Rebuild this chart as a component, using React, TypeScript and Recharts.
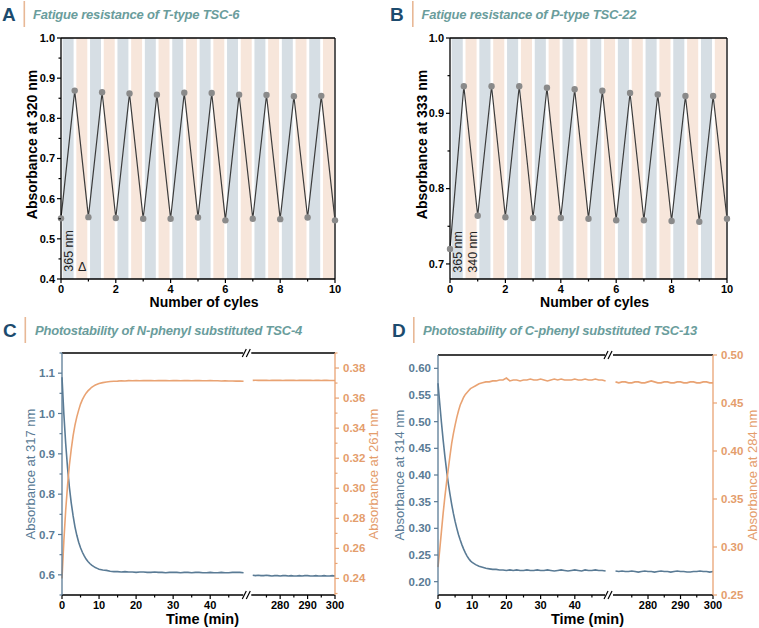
import React from "react";
import { Line, LineChart, ReferenceArea, ReferenceDot, ReferenceLine, XAxis, YAxis } from "recharts";

const FONT = 'Arial, "Liberation Sans", Helvetica, sans-serif';
const SLATE = "#5a7b95";
const ORANGE = "#e9a373";
const ORANGE_TEXT = "#e49d6c";
const BAND_BLUE = "#d6dee4";
const BAND_PEACH = "#f7e6db";
const LETTER = "#1c4b6e";
const TITLE = "#6a9d9c";
const BAR = "#e8b896";

// ---- A / B: fatigue cycles (x = number of cycles)
const cycleX = [0, 0.5, 1, 1.5, 2, 2.5, 3, 3.5, 4, 4.5, 5, 5.5, 6, 6.5, 7, 7.5, 8, 8.5, 9, 9.5, 10];
const absA320 = [0.551, 0.869, 0.554, 0.865, 0.552, 0.862, 0.55, 0.859, 0.55, 0.864, 0.553, 0.863, 0.546, 0.859, 0.55, 0.858, 0.549, 0.855, 0.553, 0.856, 0.546];
const absB333 = [0.72, 0.936, 0.764, 0.936, 0.762, 0.936, 0.761, 0.934, 0.761, 0.932, 0.76, 0.93, 0.758, 0.927, 0.758, 0.925, 0.757, 0.923, 0.756, 0.923, 0.76];
const bandCycles = [0, 1, 2, 3, 4, 5, 6, 7, 8, 9];

const cycleTicks = [0, 1, 2, 3, 4, 5, 6, 7, 8, 9, 10];
const cycleMajor = [0, 2, 4, 6, 8, 10];
const aTicks = [0.4, 0.45, 0.5, 0.55, 0.6, 0.65, 0.7, 0.75, 0.8, 0.85, 0.9, 0.95, 1.0];
const aMajor = [0.4, 0.5, 0.6, 0.7, 0.8, 0.9, 1.0];
const bTicks = [0.7, 0.75, 0.8, 0.85, 0.9, 0.95, 1.0];
const bMajor = [0.7, 0.8, 0.9, 1.0];

// ---- C / D: photostability (time in min, broken axis 50 -> 268)
const timeEarly = [0, 0.5, 1, 1.5, 2, 2.5, 3, 3.5, 4, 4.5, 5, 5.5, 6, 6.5, 7, 7.5, 8, 8.5, 9, 9.5, 10, 11, 12, 13, 14, 15, 16, 17, 18, 19, 20, 21, 22, 23, 24, 25, 26, 27, 28, 29, 30, 31, 32, 33, 34, 35, 36, 37, 38, 39, 40, 41, 42, 43, 44, 45, 46, 47, 48, 49];
const timeLate = [270, 271, 272, 273, 274, 275, 276, 277, 278, 279, 280, 281, 282, 283, 284, 285, 286, 287, 288, 289, 290, 291, 292, 293, 294, 295, 296, 297, 298, 299, 300];

const c317Early = [1.09, 0.999, 0.925, 0.865, 0.817, 0.778, 0.746, 0.719, 0.698, 0.681, 0.667, 0.656, 0.647, 0.639, 0.633, 0.628, 0.624, 0.621, 0.618, 0.616, 0.614, 0.612, 0.611, 0.609, 0.608, 0.608, 0.607, 0.608, 0.607, 0.607, 0.606, 0.607, 0.607, 0.606, 0.606, 0.607, 0.606, 0.606, 0.605, 0.606, 0.606, 0.606, 0.605, 0.606, 0.606, 0.605, 0.606, 0.606, 0.605, 0.605, 0.606, 0.605, 0.605, 0.606, 0.605, 0.605, 0.606, 0.606, 0.606, 0.605];
const c317Late = [0.599, 0.598, 0.599, 0.598, 0.598, 0.599, 0.598, 0.597, 0.598, 0.598, 0.597, 0.598, 0.598, 0.597, 0.598, 0.597, 0.597, 0.598, 0.597, 0.598, 0.598, 0.597, 0.597, 0.598, 0.597, 0.597, 0.598, 0.597, 0.597, 0.598, 0.597];
const c261Early = [0.24, 0.265, 0.2855, 0.302, 0.3155, 0.326, 0.335, 0.342, 0.3475, 0.352, 0.356, 0.359, 0.3613, 0.3633, 0.3648, 0.366, 0.3672, 0.368, 0.3687, 0.3692, 0.3697, 0.3703, 0.3707, 0.371, 0.3712, 0.3713, 0.3715, 0.3714, 0.3716, 0.3715, 0.3716, 0.3715, 0.3717, 0.3716, 0.3716, 0.3715, 0.3716, 0.3717, 0.3716, 0.3715, 0.3716, 0.3716, 0.3715, 0.3716, 0.3716, 0.3715, 0.3716, 0.3716, 0.3715, 0.3715, 0.3716, 0.3715, 0.3715, 0.3714, 0.3715, 0.3714, 0.3714, 0.3713, 0.3713, 0.3712];
const c261Late = [0.3718, 0.3719, 0.3718, 0.3718, 0.3719, 0.3718, 0.3717, 0.3718, 0.3719, 0.3718, 0.3718, 0.3717, 0.3718, 0.3719, 0.3718, 0.3718, 0.3717, 0.3718, 0.3718, 0.3719, 0.3718, 0.3718, 0.3717, 0.3718, 0.3718, 0.3717, 0.3718, 0.3718, 0.3717, 0.3717, 0.3717];

const d314Early = [0.572, 0.535, 0.499, 0.466, 0.436, 0.409, 0.385, 0.364, 0.345, 0.328, 0.313, 0.3, 0.288, 0.278, 0.269, 0.261, 0.254, 0.248, 0.243, 0.239, 0.236, 0.232, 0.229, 0.227, 0.225, 0.224, 0.223, 0.223, 0.222, 0.222, 0.221, 0.222, 0.221, 0.222, 0.221, 0.221, 0.222, 0.221, 0.221, 0.222, 0.221, 0.221, 0.222, 0.221, 0.22, 0.221, 0.222, 0.221, 0.22, 0.221, 0.222, 0.221, 0.22, 0.222, 0.221, 0.221, 0.222, 0.221, 0.221, 0.22];
const d314Late = [0.22, 0.219, 0.22, 0.219, 0.219, 0.22, 0.219, 0.218, 0.219, 0.22, 0.219, 0.219, 0.218, 0.219, 0.22, 0.219, 0.219, 0.218, 0.219, 0.22, 0.219, 0.219, 0.218, 0.218, 0.219, 0.219, 0.22, 0.219, 0.219, 0.218, 0.219];
const d284Early = [0.279, 0.297, 0.316, 0.335, 0.352, 0.367, 0.381, 0.395, 0.408, 0.418, 0.427, 0.435, 0.442, 0.448, 0.452, 0.456, 0.459, 0.461, 0.463, 0.465, 0.466, 0.468, 0.47, 0.471, 0.472, 0.472, 0.473, 0.473, 0.474, 0.474, 0.476, 0.473, 0.474, 0.474, 0.473, 0.474, 0.474, 0.475, 0.474, 0.474, 0.475, 0.474, 0.473, 0.474, 0.475, 0.474, 0.475, 0.474, 0.474, 0.474, 0.475, 0.474, 0.474, 0.475, 0.474, 0.474, 0.475, 0.474, 0.474, 0.473];
const d284Late = [0.472, 0.471, 0.472, 0.472, 0.471, 0.471, 0.472, 0.472, 0.471, 0.471, 0.472, 0.473, 0.472, 0.471, 0.471, 0.472, 0.472, 0.471, 0.471, 0.472, 0.472, 0.471, 0.471, 0.472, 0.472, 0.471, 0.471, 0.472, 0.472, 0.471, 0.471];

const timeMajor = [0, 10, 20, 30, 40, 280, 290, 300];
const timeMinor = [5, 15, 25, 35, 45, 275, 285, 295];
const cLeftTicks = [0.55, 0.6, 0.65, 0.7, 0.75, 0.8, 0.85, 0.9, 0.95, 1.0, 1.05, 1.1, 1.15];
const cLeftMajor = [0.6, 0.7, 0.8, 0.9, 1.0, 1.1];
const cRightTicks = [0.23, 0.24, 0.25, 0.26, 0.27, 0.28, 0.29, 0.3, 0.31, 0.32, 0.33, 0.34, 0.35, 0.36, 0.37, 0.38, 0.39];
const cRightMajor = [0.24, 0.26, 0.28, 0.3, 0.32, 0.34, 0.36, 0.38];
const dLeftTicks = [0.2, 0.25, 0.3, 0.35, 0.4, 0.45, 0.5, 0.55, 0.6];
const dRightTicks = [0.25, 0.3, 0.35, 0.4, 0.45, 0.5];

// broken time axis: minutes 0-50 kept as is, 268-300 squeezed by k after the break
const BREAK_AT = 50;
const RIGHT_START = 268;
const toU = (t: number, k: number) => (t <= BREAK_AT ? t : BREAK_AT + (t - RIGHT_START) * k);
const fromU = (u: number, k: number) => (u <= BREAK_AT ? u : RIGHT_START + (u - BREAK_AT) / k);

function brokenRows(earlyL: number[], earlyR: number[], lateL: number[], lateR: number[], k: number) {
  const rows: Array<{ u: number; s1: number | null; s2: number | null }> = timeEarly.map((t, i) => ({ u: t, s1: earlyL[i], s2: earlyR[i] }));
  rows.push({ u: BREAK_AT, s1: null, s2: null });
  timeLate.forEach((t, i) => rows.push({ u: toU(t, k), s1: lateL[i], s2: lateR[i] }));
  return rows;
}

type Side = "left" | "right" | "bottom";

// ticks drawn by hand so minor ticks can be shorter than major ones
function tickRenderer(side: Side, majors: number[], fmt: (v: number) => string, color: string, fontSize: number, lineColor = color, gap = 2) {
  return (props: any) => {
    const { x, y, payload } = props;
    const v = Number(payload.value);
    const major = majors.some((m) => Math.abs(m - v) < 1e-6);
    const len = major ? 4 : 2.5;
    const label = major ? fmt(v) : "";
    const txt = { fill: color, fontSize, fontWeight: 700, fontFamily: FONT } as const;
    if (side === "left") {
      return (
        <g>
          <line x1={x - len} x2={x} y1={y} y2={y} stroke={lineColor} strokeWidth={1.2} />
          {label && <text x={x - 4 - gap} y={y} dy="0.35em" textAnchor="end" {...txt}>{label}</text>}
        </g>
      );
    }
    if (side === "right") {
      return (
        <g>
          <line x1={x} x2={x + len} y1={y} y2={y} stroke={lineColor} strokeWidth={1.2} />
          {label && <text x={x + 4 + gap} y={y} dy="0.35em" textAnchor="start" {...txt}>{label}</text>}
        </g>
      );
    }
    return (
      <g>
        <line x1={x} x2={x} y1={y} y2={y + len} stroke={lineColor} strokeWidth={1.2} />
        {label && <text x={x} y={y + 4 + gap} dy="0.71em" textAnchor="middle" {...txt}>{label}</text>}
      </g>
    );
  };
}

function yTitle(text: string, dx: number, dy: number, color: string, weight: number, size: number) {
  return (props: any) => {
    const vb = props.viewBox || { x: 0, y: 0, width: 0, height: 0 };
    const cx = vb.x + dx;
    const cy = vb.y + vb.height / 2 + dy;
    return (
      <text x={cx} y={cy} transform={`rotate(-90 ${cx} ${cy})`} textAnchor="middle" dominantBaseline="central" fill={color} fontSize={size} fontWeight={weight} fontFamily={FONT}>
        {text}
      </text>
    );
  };
}

function xTitle(text: string, dx: number, dy: number, size: number) {
  return (props: any) => {
    const vb = props.viewBox || { x: 0, y: 0, width: 0, height: 0 };
    return (
      <text x={vb.x + vb.width / 2 + dx} y={vb.y + dy} textAnchor="middle" fill="#000" fontSize={size} fontWeight={700} fontFamily={FONT}>
        {text}
      </text>
    );
  };
}

const BreakMark = (props: any) => {
  const { cx, cy } = props;
  return (
    <g>
      <rect x={cx - 4} y={cy - 1.5} width={8} height={3} fill="#fff" />
      <line x1={cx - 5} y1={cy + 4} x2={cx - 1} y2={cy - 4} stroke="#000" strokeWidth={1.2} />
      <line x1={cx - 1} y1={cy + 4} x2={cx + 3} y2={cy - 4} stroke="#000" strokeWidth={1.2} />
    </g>
  );
};

function noteShape(text: string, rotate: boolean) {
  return (props: any) => {
    const { cx, cy } = props;
    return (
      <text x={cx} y={cy} transform={rotate ? `rotate(-90 ${cx} ${cy})` : undefined} textAnchor="middle" dominantBaseline="central" fill="#222" fontSize={12.5} fontFamily={FONT}>
        {text}
      </text>
    );
  };
}

function PanelHeader({ left, top, letter, title, letterX, barX, titleX }: { left: number; top: number; letter: string; title: string; letterX: number; barX: number; titleX: number }) {
  return (
    <svg style={{ position: "absolute", left, top }} width={379} height={30}>
      <text x={letterX} y={20.5} fontSize={19} fontWeight={700} fill={LETTER} fontFamily={FONT}>{letter}</text>
      <rect x={barX} y={1} width={1.6} height={26} fill={BAR} />
      <text x={titleX} y={18.5} fontSize={13} letterSpacing={-0.2} fontWeight={700} fontStyle="italic" fill={TITLE} fontFamily={FONT}>{title}</text>
    </svg>
  );
}

function FatigueChart({ values, yDomain, yTicks, yMajor, yLabel, yAxisWidth, width, labelDx, notes }: {
  values: number[]; yDomain: [number, number]; yTicks: number[]; yMajor: number[]; yLabel: string; yAxisWidth: number; width: number; labelDx: number;
  notes: Array<{ x: number; y: number; text: string; rotate: boolean }>;
}) {
  const data = cycleX.map((x, i) => ({ x, abs: values[i] }));
  const fmt = (v: number) => v.toFixed(1);
  return (
    <LineChart width={width} height={290} data={data} margin={{ top: 10, right: 11, bottom: 0, left: 0 }}>
      {bandCycles.map((k) => (
        <ReferenceArea key={`bb${k}`} x1={k + 0.06} x2={k + 0.46} fill={BAND_BLUE} fillOpacity={1} stroke="none" ifOverflow="hidden" />
      ))}
      {bandCycles.map((k) => (
        <ReferenceArea key={`bp${k}`} x1={k + 0.56} x2={k + 0.96} fill={BAND_PEACH} fillOpacity={1} stroke="none" ifOverflow="hidden" />
      ))}
      <XAxis dataKey="x" type="number" domain={[0, 10]} ticks={cycleTicks} interval={0} height={39} tickSize={0} tickMargin={0} tickLine={false}
        axisLine={{ stroke: "#000", strokeWidth: 1.3 }} tick={tickRenderer("bottom", cycleMajor, (v) => String(v), "#000", 11, "#000", 2)}
        label={{ content: xTitle("Number of cyles", 6, 28, 14) }} />
      <YAxis type="number" domain={yDomain} ticks={yTicks} interval={0} width={yAxisWidth} tickSize={0} tickMargin={0} tickLine={false} allowDataOverflow
        axisLine={{ stroke: "#000", strokeWidth: 1.3 }} tick={tickRenderer("left", yMajor, fmt, "#000", 11)}
        label={{ content: yTitle(yLabel, labelDx, -14, "#000", 700, 14) }} />
      <ReferenceLine y={yDomain[1]} stroke="#000" strokeWidth={1.3} />
      <ReferenceLine x={10} stroke="#000" strokeWidth={1.3} />
      {notes.map((n) => (
        <ReferenceDot key={n.text} x={n.x} y={n.y} r={0} ifOverflow="visible" shape={noteShape(n.text, n.rotate)} />
      ))}
      <Line type="linear" dataKey="abs" stroke="#3c3c3c" strokeWidth={1.2} isAnimationActive={false}
        dot={{ r: 3.2, fill: "#8a8a8a", stroke: "#8a8a8a", strokeWidth: 0 }} />
    </LineChart>
  );
}

function PhotoChart({ rows, k, width, height, leftWidth, rightWidth, leftDomain, rightDomain, leftTicks, leftMajor, rightTicks, rightMajor, leftFmt, rightFmt, leftLabel, rightLabel, leftDx, rightDx, titleDx }: {
  rows: Array<{ u: number; s1: number | null; s2: number | null }>; k: number; width: number; height: number; leftWidth: number; rightWidth: number;
  leftDomain: [number, number]; rightDomain: [number, number]; leftTicks: number[]; leftMajor: number[]; rightTicks: number[]; rightMajor: number[];
  leftFmt: (v: number) => string; rightFmt: (v: number) => string; leftLabel: string; rightLabel: string; leftDx: number; rightDx: number; titleDx: number;
}) {
  const uMax = toU(300, k);
  const xTicks = [...timeMajor, ...timeMinor].map((t) => toU(t, k)).sort((a, b) => a - b);
  const xMajor = timeMajor.map((t) => toU(t, k));
  return (
    <LineChart width={width} height={height} data={rows} margin={{ top: 10, right: 0, bottom: 0, left: 0 }}>
      <XAxis dataKey="u" type="number" domain={[0, uMax]} ticks={xTicks} interval={0} height={38} tickSize={0} tickMargin={0} tickLine={false}
        axisLine={{ stroke: "#000", strokeWidth: 1.3 }}
        tick={tickRenderer("bottom", xMajor, (v) => String(Math.round(fromU(v, k))), "#000", 11, "#000", 2.5)}
        label={{ content: xTitle("Time (min)", titleDx, 29, 14.5) }} />
      <YAxis yAxisId="l" orientation="left" type="number" domain={leftDomain} ticks={leftTicks} interval={0} width={leftWidth} tickSize={0} tickMargin={0} tickLine={false} allowDataOverflow
        axisLine={{ stroke: SLATE, strokeWidth: 1.3 }} tick={tickRenderer("left", leftMajor, leftFmt, SLATE, 11.5, SLATE, 3)}
        label={{ content: yTitle(leftLabel, leftDx, 0, SLATE, 400, 13) }} />
      <YAxis yAxisId="r" orientation="right" type="number" domain={rightDomain} ticks={rightTicks} interval={0} width={rightWidth} tickSize={0} tickMargin={0} tickLine={false} allowDataOverflow
        axisLine={{ stroke: ORANGE, strokeWidth: 1.3 }} tick={tickRenderer("right", rightMajor, rightFmt, ORANGE_TEXT, 11.5, ORANGE, 4)}
        label={{ content: yTitle(rightLabel, rightDx, 0, ORANGE_TEXT, 400, 13) }} />
      <ReferenceLine yAxisId="l" y={leftDomain[1]} stroke="#000" strokeWidth={1.3} />
      <Line yAxisId="l" type="linear" dataKey="s1" stroke={SLATE} strokeWidth={1.6} dot={false} isAnimationActive={false} />
      <Line yAxisId="r" type="linear" dataKey="s2" stroke={ORANGE} strokeWidth={1.6} dot={false} isAnimationActive={false} />
      <ReferenceDot yAxisId="l" x={BREAK_AT} y={leftDomain[1]} r={0} ifOverflow="visible" shape={BreakMark} />
      <ReferenceDot yAxisId="l" x={BREAK_AT} y={leftDomain[0]} r={0} ifOverflow="visible" shape={BreakMark} />
    </LineChart>
  );
}

export default function App() {
  const kC = 0.74;
  const kD = 0.95;
  const rowsC = brokenRows(c317Early, c261Early, c317Late, c261Late, kC);
  const rowsD = brokenRows(d314Early, d284Early, d314Late, d284Late, kD);
  return (
    <div style={{ position: "absolute", left: 0, top: 0, width: 759, height: 628, background: "#fff", overflow: "hidden", fontFamily: FONT }}>
      <PanelHeader left={0} top={0} letter="A" title="Fatigue resistance of T-type TSC-6" letterX={2} barX={23.5} titleX={33} />
      <PanelHeader left={380} top={0} letter="B" title="Fatigue resistance of P-type TSC-22" letterX={10} barX={32} titleX={41.5} />
      <PanelHeader left={0} top={316} letter="C" title="Photostability of N-phenyl substituted TSC-4" letterX={3} barX={24.5} titleX={35} />
      <PanelHeader left={380} top={316} letter="D" title="Photostability of C-phenyl substituted TSC-13" letterX={12} barX={33} titleX={43} />

      <div style={{ position: "absolute", left: 0, top: 28 }}>
        <FatigueChart values={absA320} yDomain={[0.4, 1.0]} yTicks={aTicks} yMajor={aMajor} yLabel="Absorbance at 320 nm" yAxisWidth={61} width={346} labelDx={31.5}
          notes={[{ x: 0.28, y: 0.47, text: "365 nm", rotate: true }, { x: 0.77, y: 0.431, text: "Δ", rotate: false }]} />
      </div>
      <div style={{ position: "absolute", left: 380, top: 28 }}>
        <FatigueChart values={absB333} yDomain={[0.68, 1.0]} yTicks={bTicks} yMajor={bMajor} yLabel="Absorbance at 333 nm" yAxisWidth={70} width={358} labelDx={42.3}
          notes={[{ x: 0.3, y: 0.716, text: "365 nm", rotate: true }, { x: 0.84, y: 0.716, text: "340 nm", rotate: true }]} />
      </div>
      <div style={{ position: "absolute", left: 0, top: 343 }}>
        <PhotoChart rows={rowsC} k={kC} width={380} height={290} leftWidth={62} rightWidth={45}
          leftDomain={[0.55, 1.15]} rightDomain={[0.229, 0.39]} leftTicks={cLeftTicks} leftMajor={cLeftMajor} rightTicks={cRightTicks} rightMajor={cRightMajor}
          leftFmt={(v) => v.toFixed(1)} rightFmt={(v) => v.toFixed(2)} leftLabel="Absorbance at 317 nm" rightLabel="Absorbance at 261 nm"
          leftDx={30.7} rightDx={38.3} titleDx={4} />
      </div>
      <div style={{ position: "absolute", left: 380, top: 345 }}>
        <PhotoChart rows={rowsD} k={kD} width={379} height={288} leftWidth={58} rightWidth={46}
          leftDomain={[0.175, 0.625]} rightDomain={[0.25, 0.5]} leftTicks={dLeftTicks} leftMajor={dLeftTicks} rightTicks={dRightTicks} rightMajor={dRightTicks}
          leftFmt={(v) => v.toFixed(2)} rightFmt={(v) => v.toFixed(2)} leftLabel="Absorbance at 314 nm" rightLabel="Absorbance at 284 nm"
          leftDx={19.3} rightDx={39.5} titleDx={12} />
      </div>
    </div>
  );
}
